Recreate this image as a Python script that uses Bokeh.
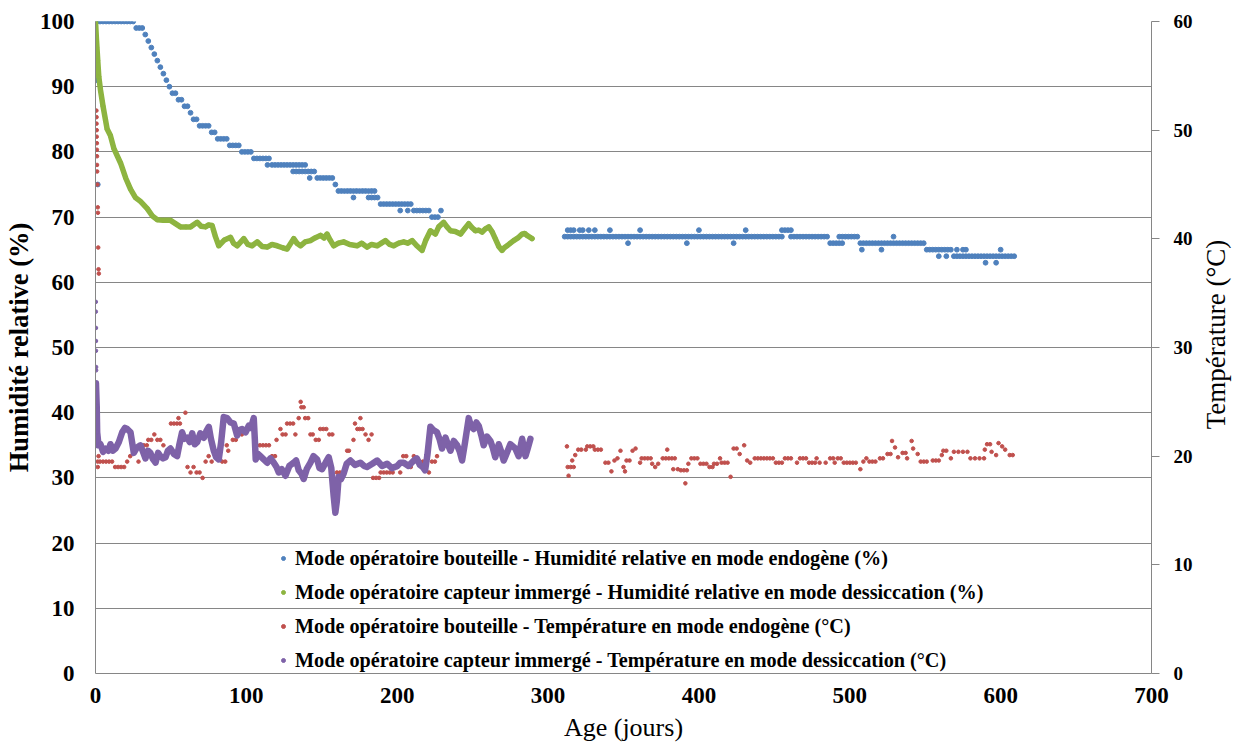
import math
from bokeh.plotting import figure
from bokeh.layouts import row
from bokeh.models import (Range1d, LinearAxis, FixedTicker, Legend, LegendItem,
                          ColumnDataSource, Label)
from bokeh.embed import file_html
from bokeh.resources import INLINE

# ---------------- data ----------------
x_ticks = [0, 100, 200, 300, 400, 500, 600, 700]
hum_ticks = [0, 10, 20, 30, 40, 50, 60, 70, 80, 90, 100]
temp_ticks = [0, 10, 20, 30, 40, 50, 60]

labels = [
    "Mode opératoire bouteille - Humidité relative en mode endogène (%)",
    "Mode opératoire capteur immergé - Humidité relative en mode dessiccation (%)",
    "Mode opératoire bouteille - Température en mode endogène (°C)",
    "Mode opératoire capteur immergé - Température en mode dessiccation (°C)",
]

# Bottle, relative humidity (%), first period sampled every 2 days
blue_a_day = list(range(1, 230, 2))
blue_a_hum = [100, 100, 100, 100, 100, 100, 100, 100, 100, 100, 100, 100, 100,
              99, 99, 99,
              98, 97, 96, 95, 94, 93, 92, 91, 90, 89, 89, 88, 88, 87, 87, 86, 85, 85,
              84, 84, 84, 84,
              83, 83,
              82, 82, 82, 82,
              81, 81, 81, 81,
              80, 80, 80, 80,
              79, 79, 79, 79, 79, 79,
              78, 78, 78, 78, 78, 78, 78, 78, 78, 78, 78, 78,
              77, 77, 77,
              76, 76, 76, 76, 76, 76,
              75,
              74, 74, 74, 74, 74, 74, 74, 74, 74, 74, 74, 74, 74,
              73,
              72, 72, 72, 72, 72, 72, 72, 72, 72, 72, 72,
              71, 71, 71, 71, 71, 71,
              70, 70, 70,
              71]
# second period, every 2 days
blue_b_day = list(range(311, 610, 2))
blue_b_hum = [67, 67, 67, 67, 67, 67, 67, 67, 67, 67,
              67, 67, 67, 67, 67, 67, 67, 67, 67, 67,
              67, 67, 67, 67, 67, 67, 67, 67, 67, 67,
              67, 67, 67, 67, 67, 67, 67, 67, 67, 67,
              67, 67, 67, 67, 67, 67, 67, 67, 67, 67,
              67, 67, 67, 67, 67, 67, 67, 67, 67, 67,
              67, 67, 67, 67, 67, 67, 67, 67, 67, 67,
              67, 67, 67,
              68, 68,
              67, 67, 67, 67, 67, 67, 67, 67, 67, 67, 67, 67, 67,
              66, 66, 66,
              67, 67, 67, 67, 67, 67, 67,
              66, 66, 66, 66, 66, 66, 66, 66, 66, 66, 66,
              66, 66, 66, 66, 66, 66, 66, 66, 66, 66, 66,
              65, 65, 65, 65, 65, 65, 65, 65, 65,
              64, 64, 64, 64, 64, 64, 64, 64, 64, 64, 64, 64, 64, 64, 64, 64,
              64, 64, 64, 64, 64]
# isolated bottle humidity readings
blue_extra = [(0.4, 97), (0.5, 96), (0.6, 94), (0.6, 93), (0.7, 92), (0.8, 91),
              (1.5, 75), (114, 78), (131, 77), (133, 77), (135, 77), (137, 77),
              (139, 77), (142, 76), (171, 73), (181, 73), (183, 73), (185, 73),
              (202, 71), (207, 71),
              (313, 68), (315, 68), (317, 68), (321, 68), (323, 68), (327, 68),
              (331, 68), (341, 68), (353, 66), (361, 68), (392, 66), (400, 68),
              (423, 66), (431, 68), (455, 68), (461, 68), (493, 66), (495, 66),
              (508, 65), (521, 65), (529, 67), (559, 64), (564, 64), (571, 65),
              (575, 65), (577, 65), (590, 63), (597, 63), (600, 65)]

# Immersed sensor, relative humidity (%)
green_pts = [(0, 100), (0.7, 97), (1.5, 94), (2.2, 91.5), (3.3, 89.5), (5, 87),
             (7.7, 83.5), (9.9, 82.5), (12.2, 80.5), (16.6, 78.3), (20, 76),
             (23.2, 74.3), (26.5, 73), (29.8, 72.4), (34.3, 71.3), (37.6, 70.2),
             (40.9, 69.6), (45, 69.5), (49.7, 69.5), (53, 69), (56.3, 68.5),
             (60, 68.5), (63, 68.5), (67.4, 69.2), (70, 68.6), (72.9, 68.5),
             (75, 68.8), (77.3, 68.7), (79.5, 67), (81.7, 65.6), (85.5, 66.5),
             (89.5, 66.9), (91.5, 66), (93.9, 65.6), (98.3, 66.7), (101, 65.8),
             (103.8, 65.6), (107.2, 66.2), (110.5, 65.5), (113.8, 65.4),
             (117, 65.8), (120.4, 65.6), (124, 65.3), (127, 65.1), (131.4, 66.7),
             (133.5, 66), (135.9, 65.6), (139, 66.2), (142.5, 66.4), (145.5, 66.8),
             (149.1, 67.2), (151.5, 66.8), (153.5, 67.4), (155.5, 66.5),
             (157.9, 65.6), (161, 66), (164.5, 66.2), (168.5, 65.8), (173.4, 65.6),
             (176.5, 66), (180, 65.4), (183, 65.8), (186.7, 65.6), (189.5, 66),
             (192.2, 66.4), (195, 65.8), (197.7, 65.6), (201, 66), (204.3, 66.2),
             (207, 66), (209.9, 66.4), (213, 65.6), (216.5, 64.9), (219, 66.5),
             (222, 67.9), (225.3, 67.4), (227.5, 68.5), (230.8, 69.2), (233, 68.5),
             (235.3, 67.9), (238.5, 67.8), (242, 67.4), (245, 68.3), (247.4, 69),
             (249.5, 68.4), (251.8, 67.9), (254, 68), (256.3, 67.7), (258.5, 68.2),
             (260.7, 68.5), (262.8, 67.8), (265, 66.7), (267.3, 65.5), (269.5, 64.9),
             (271, 65.3), (272.8, 65.6), (275, 66), (277.2, 66.4), (280, 66.8),
             (282.8, 67.4), (284.5, 67.5), (286, 67.2), (288, 66.9), (289.4, 66.7)]

# Bottle, temperature (°C)
red_pts = [(0.6, 51.8), (0.7, 51.2), (0.7, 50.6), (0.8, 50), (0.8, 49.4), (0.9, 48.8),
           (0.9, 48.2), (1, 47.6), (1, 46.8), (1.1, 46.2), (1.3, 45), (1.5, 42.9),
           (1.6, 42.4), (1.8, 39.2), (2, 37.2), (2.2, 36.8),
           (1.4, 19.5), (2, 20), (3, 19.5), (5, 19.5), (7, 19.5), (9, 19.5), (11, 19.5),
           (1.5, 19), (13, 19), (15, 19), (17, 19), (19, 19), (21, 19.5), (23, 20),
           (28.5, 19.5), (30, 21), (32, 21), (34, 21), (35, 21.5), (37, 21.5), (39, 22),
           (41, 21.5), (43, 21.5), (45, 21), (50, 23), (52, 23), (54, 23), (55, 23.5),
           (56, 23), (59.6, 24), (61, 19), (63, 18.5), (65, 19), (67, 18.5), (69, 18.5),
           (71, 18), (73, 19.5), (75, 20), (77, 19.5), (80.6, 20), (84, 19.5), (86, 19.5),
           (87, 21), (88, 20.5), (91, 21.5), (93, 21.5), (97, 22), (106, 21.5), (107, 21),
           (109, 21), (111, 21), (113, 21), (115, 21), (117, 20), (119, 20), (120, 21.5),
           (122.6, 22.5), (124, 22), (126, 22), (127, 23), (129, 23), (131, 23),
           (132.5, 22), (134.7, 23.5), (136, 25), (136.5, 24.5), (138, 24.5),
           (139, 23.5), (141, 23.5), (142.5, 22), (144, 22), (146, 21.5), (148, 21.5),
           (149, 22.5), (151, 22.5), (153, 22.5), (155, 22), (157, 22), (160, 18.5),
           (162, 18.5), (164, 18.5), (166.8, 20.5), (168, 20.5), (171, 21.5), (172, 23),
           (173.6, 22.5), (175, 22.5), (175.6, 23.5), (177, 22.5), (179, 22),
           (181, 21.5), (183, 22), (184, 18), (186, 18), (188, 18), (189, 18.5),
           (191, 18.5), (193, 18.5), (195, 18.5), (197, 18.5), (200, 19), (202, 18.5),
           (204, 20), (206, 20), (209, 19), (211, 20), (213, 19.5), (215, 19.5),
           (217, 19.5), (219, 19.5), (221, 18.5), (223, 19.5), (225, 19.5),
           (226.4, 20), (231, 21),
           (312.5, 20.9), (313.6, 18.2), (313, 19), (315, 19), (317, 19), (316, 19.6),
           (318, 20.1), (320, 20.6), (322, 20.6), (325, 20.6), (326, 20.9), (328, 20.9),
           (330, 20.9), (331, 20.6), (333, 20.6), (335, 20.6), (338, 19.4), (340, 19.4),
           (342, 18.6), (344, 19.6), (346, 19.8), (348, 20.5), (350, 19), (351, 18.6),
           (352, 19.6), (354, 19.6), (356, 20.5), (358, 20.7), (361, 19.4), (362, 19.8),
           (364, 19.8), (366, 19.8), (368, 19.8), (369, 19.3), (371, 19), (373, 19.3),
           (376, 19.8), (378, 19.8), (379, 20.6), (380, 19.8), (382, 19.8), (384, 19.8),
           (383, 18.8), (386, 18.8), (388, 18.7), (390, 18.7), (391, 17.5), (392, 18.7),
           (393, 19.3), (395, 19.8), (397, 19.8), (399, 19.8), (401, 19.3), (403, 19.3),
           (405, 19.3), (407, 19), (409, 19), (410, 19.3), (412, 19.3), (414, 19.8),
           (415, 19.4), (417, 19.4), (419, 19.4), (421, 18.1), (423, 20.7), (425, 20.7),
           (427, 20.2), (430, 21), (432, 19.6), (434, 19.4), (437, 19.8), (439, 19.8),
           (441, 19.8), (443, 19.8), (445, 19.8), (447, 19.8), (449, 19.8), (451, 19.4),
           (453, 19.4), (455, 19.4), (457, 19.8), (459, 19.8), (461, 19.8), (465, 19.4),
           (467, 19.8), (469, 19.8), (471, 19.8), (473, 19.4), (475, 19.4), (477, 19.4),
           (478, 19.8), (480, 19.4), (484, 19.4), (487, 19.8), (489, 19.8), (490, 19.4),
           (492, 19.8), (494, 19.8), (496, 19.4), (498, 19.4), (500, 19.4), (502, 19.4),
           (504, 19.4), (507, 18.8), (509, 19.5), (511, 19.8), (513, 19.5), (515, 19.5),
           (517, 19.5), (520, 19.8), (522, 19.8), (525, 20.2), (527, 20.2), (528, 21.4),
           (530, 20.8), (532, 19.9), (535, 20.3), (537, 20.3), (538, 19.8), (541, 21.4),
           (542, 20.7), (545, 20.2), (547, 19.5), (549, 19.5), (551, 19.5), (555, 19.6),
           (557, 19.6), (559, 19.6), (561, 20.1), (562, 20.5), (564, 20.5), (567, 19.8),
           (569, 20.4), (572, 20.4), (575, 20.4), (578, 20.4), (580, 19.8), (583, 19.8),
           (586, 19.8), (589, 19.8), (589.5, 20.6), (591, 21.1), (593, 21.1), (594, 20.4),
           (597, 20.1), (598.6, 21.2), (601, 20.9), (603, 20.6), (606, 20.1), (608, 20.1)]

# Immersed sensor, temperature (°C)
purple_start = [(0.2, 34.2), (0.2, 33.3), (0.3, 31.8), (0.3, 30.6), (0.3, 29.7),
                (0.4, 28.2), (0.4, 27.9)]
purple_pts = [(0.3, 26.7), (0.8, 24.6), (1.1, 22.2), (2, 21), (3.3, 21.1), (5, 20.4),
              (6.6, 20.7), (8.5, 20.5), (9.9, 21.1), (11.5, 20.5), (13.3, 20.7),
              (15.5, 21.3), (17.7, 22.2), (19.5, 22.6), (21, 22.5), (23.2, 22.2),
              (25.4, 20.3), (27.5, 20.8), (29.8, 21), (31.5, 20.4), (33.1, 19.8),
              (34.8, 20.5), (36.4, 20.3), (38.2, 19.7), (39.8, 19.4), (41.5, 20.3),
              (43, 20), (44.8, 19.8), (46.4, 19.9), (48, 20.5), (49.7, 20.7), (52, 20.2),
              (54.1, 20), (55.5, 21), (57.4, 22.2), (59, 21.6), (60.8, 21.7), (62.5, 21.3),
              (64.1, 22.1), (65.8, 21.1), (67.4, 21.3), (69.5, 22.1), (71.8, 21.7),
              (73.5, 22.3), (75.1, 22.7), (76.5, 21.6), (78.4, 20.5), (80, 19.9),
              (81.7, 19.7), (83.3, 21.3), (85, 23.6), (87.3, 23.5), (89.5, 23.1),
              (91.7, 23), (93.9, 21.9), (95.5, 22.4), (97.2, 22.5), (99.5, 22.2),
              (101.6, 22.8), (103, 22.6), (104.9, 23.5), (105.6, 21.6), (106.2, 19.7),
              (107.8, 20.2), (109.3, 20), (111.5, 19.7), (113.8, 19.4), (116, 19.8),
              (118.2, 19.4), (120, 19), (121.5, 18.5), (123.5, 18.8), (125.9, 18.2),
              (128.5, 19.1), (131.4, 19.4), (133, 19.6), (134.7, 18.7), (136.5, 18.4),
              (138, 17.9), (140, 18.8), (142.5, 19.4), (144.5, 20), (146.9, 19.7),
              (148.5, 18.9), (150.2, 18.8), (152.5, 19.4), (154.6, 19.9), (156.3, 18.9),
              (157.9, 16.3), (159, 14.8), (160, 15.9), (161.2, 18.1), (162.8, 17.9),
              (164.5, 18.4), (166.5, 19.3), (169, 19.6), (172, 19.2), (175.6, 19.4),
              (178, 19.1), (180, 19), (183.5, 19.3), (186.7, 19.6), (190, 19.1),
              (193.3, 19.3), (196.5, 18.9), (200, 19.1), (202, 19.4), (204.3, 19.4),
              (207.5, 19.1), (211, 19.6), (213, 19.8), (215, 19.2), (217, 19),
              (218.5, 18.7), (220, 20.1), (222, 22.7), (224, 22.4), (226.4, 22.2),
              (228, 21.6), (229.7, 20.7), (232, 21.7), (233.8, 21), (235.3, 20.5),
              (237.5, 21.4), (239.7, 21), (241.5, 20.4), (243, 19.6), (245, 21.3),
              (247.4, 23.5), (249, 22.7), (250.7, 22.5), (252.5, 23.1), (254, 22.8),
              (255.8, 21.9), (257.3, 21), (259.5, 21.8), (261.8, 21.4), (263.5, 20.7),
              (265, 19.9), (267.3, 21.1), (269, 20.4), (270.6, 19.6), (273, 20.4),
              (275, 21.1), (278.3, 20.7), (280.5, 20), (282.8, 21.6), (285, 20),
              (286.5, 20.7), (288.3, 21.6)]

# ---------------- styling ----------------
FONT = "'Liberation Serif', 'Times New Roman', serif"
GRID = "#868686"
C_BLUE = "#4F81BD"
C_GREEN = "#8DB440"
C_RED = "#C0504D"
C_PURPLE = "#7E62A8"


def split(pts):
    return [a for a, _ in pts], [b for _, b in pts]


p = figure(width=1195, height=749, output_backend="svg", toolbar_location=None,
           x_range=Range1d(0, 700), y_range=Range1d(0, 100),
           min_border_left=95, min_border_right=44, min_border_top=21,
           min_border_bottom=76)
p.extra_y_ranges = {"temp": Range1d(0, 60)}
p.outline_line_color = None
p.background_fill_color = "white"
p.border_fill_color = "white"
p.xgrid.visible = False
p.ygrid.ticker = FixedTicker(ticks=hum_ticks)
p.ygrid.grid_line_color = GRID
p.ygrid.grid_line_width = 1

# x axis
xa = p.xaxis[0]
xa.ticker = FixedTicker(ticks=x_ticks)
xa.axis_line_color = GRID
xa.major_tick_out = 0
xa.major_tick_in = 0
xa.minor_tick_out = 0
xa.minor_tick_in = 0
xa.major_label_text_font = FONT
xa.major_label_text_font_style = "bold"
xa.major_label_text_font_size = "23px"
xa.major_label_text_color = "black"
xa.major_label_standoff = 14
xa.axis_label = "Age (jours)"
xa.axis_label_text_font = FONT
xa.axis_label_text_font_style = "normal"
xa.axis_label_text_font_size = "26px"
xa.axis_label_text_color = "black"
xa.axis_label_standoff = 7

# left axis
ya = p.yaxis[0]
ya.ticker = FixedTicker(ticks=hum_ticks)
ya.axis_line_color = GRID
ya.major_tick_out = 0
ya.major_tick_in = 0
ya.minor_tick_out = 0
ya.minor_tick_in = 0
ya.major_label_text_font = FONT
ya.major_label_text_font_style = "bold"
ya.major_label_text_font_size = "23px"
ya.major_label_text_color = "black"
ya.major_label_standoff = 21
ya.axis_label = "Humidité relative (%)"
ya.axis_label_text_font = FONT
ya.axis_label_text_font_style = "bold"
ya.axis_label_text_font_size = "26.5px"
ya.axis_label_text_color = "black"
ya.axis_label_standoff = 3

# right axis
ra = LinearAxis(y_range_name="temp", ticker=FixedTicker(ticks=temp_ticks))
ra.axis_line_color = GRID
ra.major_tick_line_color = GRID
ra.major_tick_out = 8
ra.major_tick_in = 0
ra.minor_tick_out = 0
ra.minor_tick_in = 0
ra.major_label_text_font = FONT
ra.major_label_text_font_style = "bold"
ra.major_label_text_font_size = "19px"
ra.major_label_text_color = "black"
ra.major_label_standoff = 14
p.add_layout(ra, "right")

# ---------------- series ----------------
bx_extra, by_extra = split(blue_extra)
blue_src = ColumnDataSource(dict(day=blue_a_day + blue_b_day + bx_extra,
                                 hum=blue_a_hum + blue_b_hum + by_extra))
r_blue = p.scatter("day", "hum", source=blue_src, size=4.8, color=C_BLUE)

gx, gy = split(green_pts)
green_src = ColumnDataSource(dict(day=gx, hum=gy))
p.line("day", "hum", source=green_src, line_width=5.5, color=C_GREEN,
       line_join="round", line_cap="round")
r_green = p.scatter("day", "hum", source=green_src, size=4, color=C_GREEN)

rx, ry = split(red_pts)
red_src = ColumnDataSource(dict(day=rx, temp=ry))
r_red = p.scatter("day", "temp", source=red_src, size=3.6, color=C_RED,
                  y_range_name="temp")

px0, py0 = split(purple_start)
p.scatter(px0, py0, size=3.6, color=C_PURPLE, y_range_name="temp")
px, py = split(purple_pts)
purple_src = ColumnDataSource(dict(day=px, temp=py))
p.line("day", "temp", source=purple_src, line_width=6.5, color=C_PURPLE,
       line_join="round", line_cap="round", y_range_name="temp")
r_purple = p.scatter("day", "temp", source=purple_src, size=4, color=C_PURPLE,
                     y_range_name="temp")

# ---------------- legend ----------------
legend = Legend(items=[LegendItem(label=labels[0], renderers=[r_blue]),
                       LegendItem(label=labels[1], renderers=[r_green]),
                       LegendItem(label=labels[2], renderers=[r_red]),
                       LegendItem(label=labels[3], renderers=[r_purple])],
                location=(183, 1), orientation="vertical",
                glyph_width=10, glyph_height=24, label_height=24,
                label_standoff=7, spacing=10, padding=0, margin=0,
                background_fill_alpha=0, border_line_alpha=0,
                label_text_font=FONT, label_text_font_style="bold",
                label_text_font_size="20.2px", label_text_color="black")
p.add_layout(legend)

# ---------------- right-hand title strip ----------------
p2 = figure(width=42, height=749, output_backend="svg", toolbar_location=None,
            x_range=Range1d(0, 1), y_range=Range1d(0, 1),
            x_axis_location=None, y_axis_location=None,
            min_border=0, min_border_left=0, min_border_right=0,
            min_border_top=0, min_border_bottom=0)
p2.grid.visible = False
p2.outline_line_color = None
p2.background_fill_color = "white"
p2.border_fill_color = "white"
p2.add_layout(Label(x=20, y=339, x_units="screen", y_units="screen",
                    text="Température (°C)", angle=math.pi / 2,
                    text_align="center", text_baseline="middle",
                    text_font=FONT, text_font_size="27px", text_color="black"))

layout = row(p, p2, spacing=0)
open("out.html", "w").write(file_html(layout, INLINE))
